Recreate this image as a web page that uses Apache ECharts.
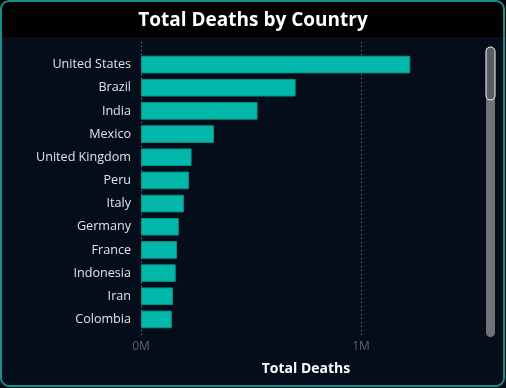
<!DOCTYPE html>
<html>
<head>
<meta charset="utf-8">
<script src="https://cdn.jsdelivr.net/npm/echarts@6/dist/echarts.min.js"></script>
<style>
html,body{margin:0;padding:0;background:#050d1a;}
#c{width:506px;height:388px;}
</style>
</head>
<body>
<div id="c"></div>
<script>
const countries = ["United States","Brazil","India","Mexico","United Kingdom","Peru","Italy","Germany","France","Indonesia","Iran","Colombia"];
const deaths = [1224000, 703000, 530000, 332000, 230000, 218000, 195000, 172000, 164000, 158000, 145000, 140000];
const xTicks = [0, 1000000];

const chart = echarts.init(document.getElementById('c'), null, {renderer:'canvas'});
const FONT = '"Open Sans","Noto Sans",sans-serif';
chart.setOption({
  backgroundColor: '#050d1a',
  animation: false,
  title: {
    text: 'Total Deaths by Country',
    left: 'center', top: 6,
    textStyle: {color: '#ffffff', fontSize: 19, fontWeight: 'bold', fontFamily: FONT}
  },
  graphic: [
    {type:'rect', z:-1, shape:{x:0,y:0,width:506,height:37}, style:{fill:'#000000'}},
    {type:'rect', z:10, shape:{x:1,y:1,width:503,height:385,r:8}, style:{fill:'none', stroke:'#1a8f89', lineWidth:2}},
    {type:'rect', z:10, shape:{x:486,y:47,width:9,height:290,r:4.5}, style:{fill:'#6f7379'}},
    {type:'rect', z:11, shape:{x:486,y:47,width:9,height:53,r:4.5}, style:{fill:'#595c63', stroke:'#ffffff', lineWidth:1}}
  ],
  grid: [
    {left:141, right:35, top:53, height:278},
    {left:141, right:35, top:42, height:295}
  ],
  xAxis: [
    {
      gridIndex:0, type:'value', min:0, max:1500000, interval:1000000,
      axisLine:{show:false}, axisTick:{show:false}, splitLine:{show:false},
      axisLabel:{color:'#5f6368', fontSize:12, fontFamily:FONT, margin:10,
        formatter: v => xTicks.indexOf(v) >= 0 ? (v/1000000)+'M' : ''},
      name:'Total Deaths', nameLocation:'middle', nameGap:31,
      nameTextStyle:{color:'#ffffff', fontSize:14, fontWeight:'bold', fontFamily:FONT}
    },
    {
      gridIndex:1, type:'value', min:0, max:1500000, interval:1000000,
      axisLine:{show:false}, axisTick:{show:false}, axisLabel:{show:false},
      splitLine:{show:true, showMaxLine:false, lineStyle:{color:'#8a8f96', type:[1,3], width:1}}
    }
  ],
  yAxis: [
    {
      gridIndex:0, type:'category', data:countries, inverse:true,
      axisLine:{show:false}, axisTick:{show:false},
      axisLabel:{color:'#e3e3e3', fontSize:12.6, fontFamily:FONT, margin:10}
    },
    {gridIndex:1, type:'category', data:[''], show:false}
  ],
  series: [{
    type:'bar', xAxisIndex:0, yAxisIndex:0, data:deaths,
    barCategoryGap:'24%',
    itemStyle:{color:'#01b8aa', borderColor:'#0d8f86', borderWidth:1}
  }]
});
</script>
</body>
</html>
